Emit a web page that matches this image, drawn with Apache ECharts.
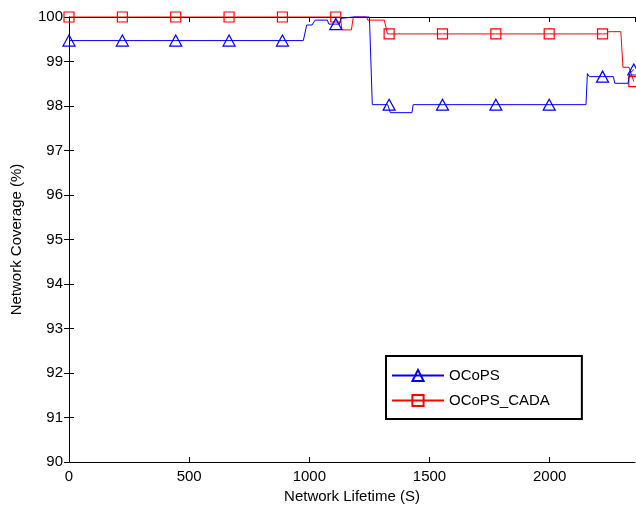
<!DOCTYPE html>
<html>
<head>
<meta charset="utf-8">
<script src="https://cdn.jsdelivr.net/npm/echarts@6/dist/echarts.min.js"></script>
<style>html,body{margin:0;padding:0;background:#fff;}#c{width:636px;height:506px;}</style>
</head>
<body>
<div id="c"></div>
<script>
// Series data (x = network lifetime in s, y = coverage %)
const ocopsX = [0, 222, 444, 666, 888, 975, 989, 1011, 1024, 1075, 1081, 1110, 1125, 1132, 1182, 1250, 1262, 1326, 1332, 1337, 1427, 1432, 1554, 1776, 1998, 2151, 2157, 2165, 2220, 2265, 2271, 2326, 2333, 2350];
const ocopsY = [99.47, 99.47, 99.47, 99.47, 99.47, 99.47, 99.82, 99.82, 99.93, 99.93, 99.84, 99.84, 99.84, 99.97, 100, 100, 98.03, 98.03, 98.03, 97.85, 97.85, 98.03, 98.03, 98.03, 98.03, 98.03, 98.73, 98.66, 98.66, 98.66, 98.51, 98.51, 98.73, 98.82];
const cadaX = [0, 222, 444, 666, 888, 1110, 1128, 1136, 1175, 1183, 1238, 1243, 1312, 1325, 1332, 1554, 1776, 1998, 2220, 2237, 2244, 2296, 2305, 2330, 2350];
const cadaY = [100, 100, 100, 100, 100, 100, 100, 99.71, 99.71, 100, 100, 99.93, 99.93, 99.62, 99.62, 99.62, 99.62, 99.62, 99.62, 99.62, 99.67, 99.67, 98.87, 98.87, 98.55];
const markerX = [0, 222, 444, 666, 888, 1110, 1332, 1554, 1776, 1998, 2220, 2350];
const yTicks = [90, 91, 92, 93, 94, 95, 96, 97, 98, 99, 100];
const seriesNames = ['OCoPS', 'OCoPS_CADA'];

function build(xs, ys, sym) {
  return xs.map((x, i) => ({
    value: [x, ys[i]],
    symbol: markerX.indexOf(x) >= 0 ? sym : 'none'
  }));
}

const font = 'Liberation Sans, Arial, Helvetica, sans-serif';
const axisLine = { show: true, lineStyle: { color: '#000', width: 1 } };
const tick = () => ({ show: true, inside: true, length: 5, lineStyle: { color: '#000' } });
const chart = echarts.init(document.getElementById('c'));
chart.setOption({
  animation: false,
  backgroundColor: '#fff',
  textStyle: { fontFamily: font },
  grid: { left: 69, right: 1, top: 17, bottom: 44, containLabel: false, outerBoundsMode: 'none' },
  legend: {
    orient: 'vertical',
    left: 386, top: 356,
    padding: [12, 32, 11, 5],
    itemWidth: 52, itemHeight: 14, itemGap: 10,
    backgroundColor: '#fff',
    borderColor: '#000', borderWidth: 2,
    textStyle: { fontFamily: font, fontSize: 15, color: '#000' },
    data: seriesNames
  },
  xAxis: [{
    type: 'value', min: 0, max: 2355, interval: 500,
    name: 'Network Lifetime (S)', nameLocation: 'middle', nameGap: 27,
    nameTextStyle: { fontFamily: font, fontSize: 15, color: '#000' },
    axisLine: axisLine, axisTick: tick(),
    axisLabel: { fontFamily: font, fontSize: 15, color: '#000', margin: 7, showMaxLabel: false,
                 formatter: v => String(v) },
    splitLine: { show: false }
  }, {
    type: 'value', min: 0, max: 2355, interval: 500, position: 'top',
    axisLine: axisLine, axisTick: tick(),
    axisLabel: { show: false }, splitLine: { show: false }
  }],
  yAxis: [{
    type: 'value', min: yTicks[0], max: yTicks[yTicks.length - 1], interval: 1,
    name: 'Network Coverage (%)', nameLocation: 'middle', nameGap: 45,
    nameTextStyle: { fontFamily: font, fontSize: 15, color: '#000' },
    axisLine: axisLine, axisTick: tick(),
    axisLabel: { fontFamily: font, fontSize: 15, color: '#000', margin: 6 },
    splitLine: { show: false }
  }, {
    type: 'value', min: yTicks[0], max: yTicks[yTicks.length - 1], interval: 1, position: 'right',
    axisLine: axisLine, axisTick: tick(),
    axisLabel: { show: false }, splitLine: { show: false }
  }],
  series: [{
    name: seriesNames[0], type: 'line', xAxisIndex: 0, yAxisIndex: 0,
    clip: false, showSymbol: true, symbol: 'triangle', symbolSize: [12, 11],
    lineStyle: { color: '#0000ff', width: 1 },
    itemStyle: { color: 'rgba(0,0,0,0)', borderColor: '#0000ff', borderWidth: 1.2 },
    data: build(ocopsX, ocopsY, 'triangle'), z: 3
  }, {
    name: seriesNames[1], type: 'line', xAxisIndex: 0, yAxisIndex: 0,
    clip: false, showSymbol: true, symbol: 'rect', symbolSize: 10,
    lineStyle: { color: '#ff0000', width: 1 },
    itemStyle: { color: 'rgba(0,0,0,0)', borderColor: '#ff0000', borderWidth: 1.2 },
    data: build(cadaX, cadaY, 'rect'), z: 2
  }]
});
</script>
</body>
</html>
